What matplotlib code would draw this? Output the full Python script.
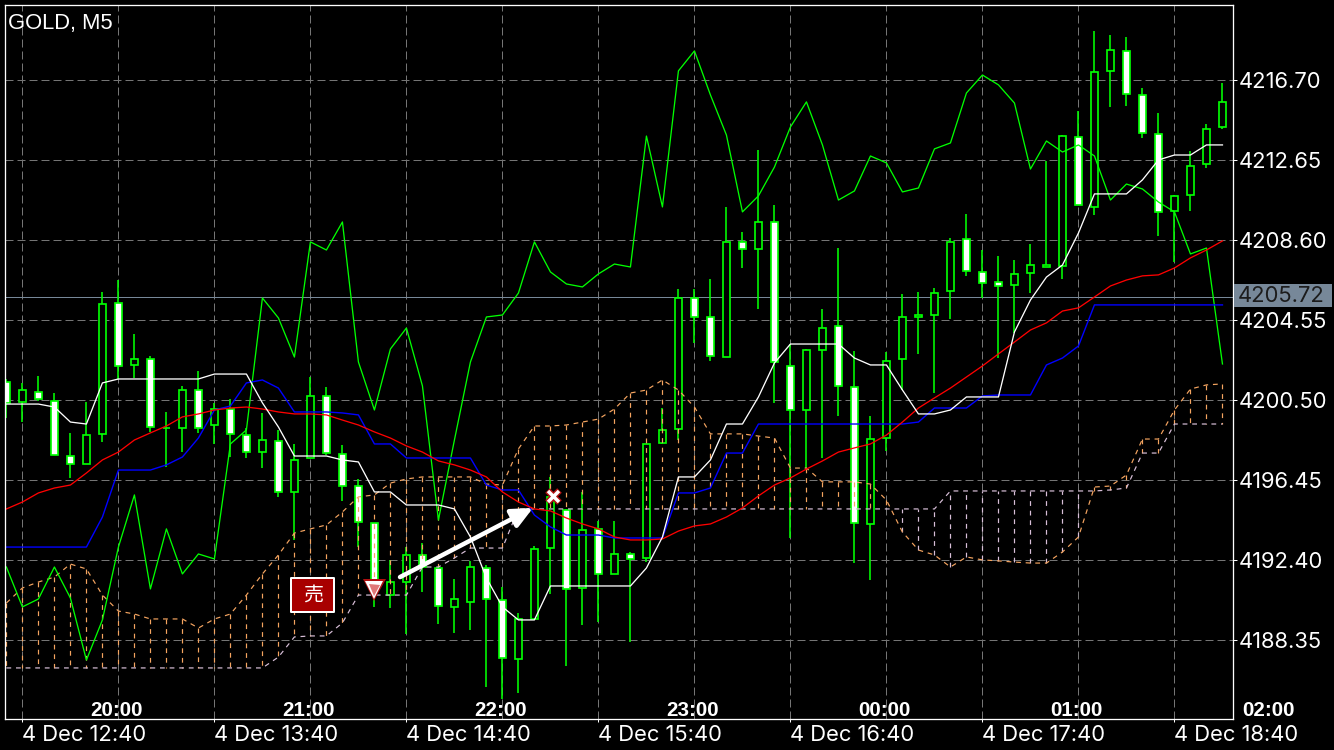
import numpy as np
import matplotlib
matplotlib.use("Agg")
import matplotlib.pyplot as plt
from matplotlib.patches import Rectangle
from matplotlib.transforms import blended_transform_factory

# Candles, one bar every 5 minutes
opens = [4201.41, 4200.40, 4200.90, 4200.45, 4197.66, 4197.26, 4198.78, 4205.41, 4202.27, 4202.57,
         4199.08, 4199.08, 4201.00, 4199.23, 4200.04, 4198.72, 4197.86, 4198.42, 4195.84, 4197.56,
         4200.70, 4197.76, 4196.14, 4194.27, 4190.62, 4191.28, 4192.65, 4191.99, 4190.02, 4190.27,
         4191.99, 4190.37, 4187.38, 4189.41, 4193.00, 4194.93, 4190.98, 4193.97, 4191.69, 4192.70,
         4192.50, 4198.32, 4199.03, 4205.66, 4204.70, 4202.67, 4208.50, 4208.14, 4209.51, 4202.22,
         4199.99, 4203.03, 4204.24, 4201.16, 4194.22, 4198.57, 4202.57, 4204.70, 4204.80, 4206.02,
         4208.65, 4206.98, 4206.47, 4206.32, 4206.93, 4207.23, 4207.28, 4213.81, 4210.27, 4217.16,
         4218.17, 4215.94, 4213.97, 4210.07, 4210.88, 4212.45, 4214.32]
highs = [4201.56, 4201.36, 4201.71, 4200.85, 4198.83, 4200.40, 4205.97, 4206.57, 4203.84, 4202.72,
         4199.89, 4201.21, 4201.97, 4200.35, 4200.55, 4199.08, 4199.84, 4198.98, 4198.27, 4201.66,
         4201.16, 4198.22, 4196.50, 4194.27, 4192.40, 4193.05, 4193.26, 4192.04, 4191.43, 4192.35,
         4192.14, 4191.03, 4189.71, 4193.10, 4196.60, 4194.98, 4195.84, 4194.37, 4194.37, 4192.80,
         4198.27, 4200.09, 4206.12, 4206.12, 4206.62, 4210.27, 4209.00, 4213.16, 4210.37, 4203.33,
         4203.08, 4205.10, 4208.19, 4202.98, 4199.69, 4202.93, 4205.86, 4205.97, 4206.17, 4208.70,
         4209.91, 4208.09, 4207.79, 4207.59, 4208.40, 4212.60, 4213.91, 4215.13, 4219.18, 4218.98,
         4218.88, 4216.29, 4215.03, 4210.88, 4213.10, 4214.47, 4216.55]
lows = [4199.59, 4199.38, 4200.45, 4197.71, 4196.55, 4197.26, 4198.37, 4201.56, 4201.61, 4198.88,
        4197.10, 4197.86, 4198.83, 4198.27, 4197.61, 4197.56, 4197.05, 4195.59, 4193.41, 4197.56,
        4197.71, 4195.38, 4193.05, 4190.02, 4189.97, 4188.65, 4190.78, 4189.16, 4188.70, 4188.85,
        4185.97, 4185.36, 4185.66, 4189.36, 4190.67, 4187.03, 4189.10, 4189.26, 4191.69, 4188.24,
        4192.29, 4198.27, 4198.47, 4203.38, 4202.47, 4202.67, 4207.18, 4205.10, 4200.35, 4193.51,
        4197.05, 4197.56, 4199.69, 4192.24, 4191.38, 4197.91, 4201.00, 4202.83, 4200.85, 4204.60,
        4206.78, 4205.66, 4202.62, 4203.89, 4205.91, 4207.23, 4206.62, 4210.37, 4209.86, 4215.33,
        4215.38, 4213.76, 4208.80, 4207.48, 4210.07, 4212.24, 4214.22]
closes = [4200.35, 4201.00, 4200.55, 4197.71, 4197.26, 4198.72, 4205.36, 4202.22, 4202.57, 4199.13,
          4199.08, 4201.00, 4199.08, 4200.04, 4198.78, 4197.86, 4198.47, 4195.84, 4197.46, 4200.70,
          4197.81, 4196.14, 4194.32, 4191.23, 4191.28, 4192.65, 4192.04, 4190.07, 4190.42, 4192.04,
          4190.42, 4187.43, 4189.41, 4192.95, 4195.59, 4190.93, 4193.91, 4191.69, 4192.70, 4192.45,
          4198.27, 4198.98, 4205.66, 4204.70, 4202.72, 4208.50, 4208.14, 4209.51, 4202.42, 4199.99,
          4203.03, 4204.14, 4201.21, 4194.27, 4198.52, 4202.47, 4204.70, 4204.80, 4205.91, 4208.50,
          4207.03, 4206.42, 4206.27, 4206.88, 4207.33, 4207.33, 4213.86, 4210.37, 4217.10, 4218.22,
          4215.99, 4214.02, 4210.02, 4210.83, 4212.34, 4214.22, 4215.59]

# Indicator lines
white_line = [4200.29, 4200.29, 4200.29, 4200.14, 4199.38, 4199.28, 4201.36, 4201.56, 4201.56, 4201.56,
              4201.56, 4201.56, 4201.56, 4201.81, 4201.81, 4201.81, 4200.35, 4199.13, 4197.66, 4197.66,
              4197.66, 4197.46, 4197.36, 4195.84, 4195.84, 4195.18, 4195.18, 4195.18, 4194.98, 4193.56,
              4191.48, 4190.02, 4189.36, 4189.36, 4191.08, 4191.08, 4191.08, 4191.08, 4191.08, 4191.08,
              4191.99, 4193.56, 4196.60, 4196.60, 4197.46, 4199.28, 4199.28, 4200.65, 4202.37, 4203.33,
              4203.33, 4203.33, 4203.33, 4202.62, 4202.27, 4202.27, 4201.00, 4199.79, 4199.79, 4199.99,
              4200.65, 4200.65, 4200.65, 4203.94, 4205.56, 4206.72, 4207.33, 4208.95, 4210.93, 4210.93,
              4210.93, 4211.64, 4212.65, 4212.90, 4212.90, 4213.41, 4213.41]
blue_line = [4193.05, 4193.05, 4193.05, 4193.05, 4193.05, 4193.05, 4194.57, 4196.95, 4196.95, 4196.95,
             4197.21, 4197.61, 4198.57, 4199.99, 4200.19, 4201.36, 4201.51, 4201.10, 4199.89, 4199.89,
             4199.89, 4199.84, 4199.74, 4198.27, 4198.27, 4197.56, 4197.56, 4197.56, 4197.56, 4197.56,
             4196.19, 4195.94, 4195.94, 4194.67, 4194.07, 4193.66, 4193.66, 4193.66, 4193.51, 4193.51,
             4193.51, 4193.51, 4195.79, 4195.79, 4196.04, 4197.81, 4197.81, 4199.28, 4199.28, 4199.28,
             4199.28, 4199.28, 4199.28, 4199.28, 4199.28, 4199.28, 4199.28, 4199.38, 4200.09, 4200.09,
             4200.09, 4200.70, 4200.75, 4200.75, 4200.75, 4202.27, 4202.62, 4203.23, 4205.31, 4205.31,
             4205.31, 4205.31, 4205.31, 4205.31, 4205.31, 4205.31, 4205.31]
red_line = [4194.98, 4195.33, 4195.79, 4196.04, 4196.19, 4196.80, 4197.46, 4197.86, 4198.47, 4198.83,
            4199.18, 4199.64, 4199.79, 4199.99, 4200.09, 4200.14, 4200.04, 4199.89, 4199.79, 4199.79,
            4199.74, 4199.48, 4199.23, 4198.88, 4198.57, 4198.17, 4197.86, 4197.41, 4197.21, 4196.95,
            4196.60, 4195.84, 4195.33, 4194.98, 4194.88, 4194.52, 4194.22, 4193.97, 4193.56, 4193.41,
            4193.41, 4193.46, 4193.86, 4194.12, 4194.22, 4194.57, 4195.03, 4195.64, 4196.19, 4196.55,
            4197.00, 4197.41, 4197.86, 4198.07, 4198.27, 4198.72, 4199.38, 4200.09, 4200.60, 4201.10,
            4201.66, 4202.22, 4202.83, 4203.43, 4204.04, 4204.40, 4205.00, 4205.16, 4205.71, 4206.27,
            4206.57, 4206.78, 4206.83, 4207.18, 4207.69, 4208.09, 4208.55]
green_line = [4192.04, 4190.02, 4190.42, 4192.04, 4190.47, 4187.33, 4189.36, 4193.05, 4195.69, 4190.93,
              4193.97, 4191.69, 4192.70, 4192.45, 4198.27, 4198.98, 4205.66, 4204.65, 4202.67, 4208.50,
              4208.09, 4209.51, 4202.42, 4199.99, 4203.08, 4204.14, 4201.21, 4194.42, 4198.47, 4202.42,
              4204.70, 4204.80, 4205.91, 4208.50, 4206.98, 4206.37, 4206.22, 4206.88, 4207.38, 4207.23,
              4213.86, 4210.27, 4217.16, 4218.17, 4215.94, 4213.91, 4210.02, 4210.83, 4212.29, 4214.32,
              4215.59, 4213.41, 4210.62, 4211.08, 4212.85, 4212.50, 4211.03, 4211.23, 4213.21, 4213.51,
              4216.04, 4216.95, 4216.45, 4215.53, 4212.19, 4213.61, 4213.05, 4213.41, 4212.85, 4210.62,
              4211.43, 4211.18, 4210.52, 4210.02, 4207.89, 4208.19, 4202.32]

# Cloud
span_a = [4190.22, 4190.98, 4191.28, 4191.53, 4192.19, 4191.94, 4190.62, 4189.81, 4189.66, 4189.41,
          4189.41, 4189.41, 4188.95, 4189.41, 4189.66, 4190.62, 4191.69, 4192.65, 4193.76, 4193.97,
          4194.17, 4194.83, 4195.59, 4195.69, 4196.29, 4196.50, 4196.60, 4196.60, 4196.60, 4196.60,
          4196.24, 4196.19, 4198.02, 4199.18, 4199.18, 4199.23, 4199.38, 4199.53, 4200.04, 4200.85,
          4201.00, 4201.51, 4201.00, 4200.14, 4198.78, 4198.78, 4198.78, 4198.67, 4198.57, 4197.05,
          4197.05, 4196.35, 4196.35, 4196.35, 4196.24, 4195.43, 4193.81, 4192.90, 4192.65, 4192.04,
          4192.55, 4192.40, 4192.35, 4192.29, 4192.24, 4192.24, 4192.80, 4193.56, 4196.09, 4196.14,
          4196.70, 4198.52, 4198.52, 4199.99, 4201.05, 4201.26, 4201.31]
span_b = [4186.93, 4186.93, 4186.93, 4186.93, 4186.93, 4186.93, 4186.93, 4186.93, 4186.93, 4186.93,
          4186.93, 4186.93, 4186.93, 4186.93, 4186.93, 4186.93, 4186.93, 4187.48, 4188.50, 4188.55,
          4188.55, 4189.21, 4190.62, 4190.62, 4190.62, 4190.62, 4192.04, 4192.04, 4192.50, 4193.00,
          4193.00, 4193.00, 4194.98, 4194.98, 4194.98, 4194.98, 4194.98, 4194.98, 4194.98, 4194.98,
          4194.98, 4194.98, 4194.98, 4194.98, 4194.98, 4194.98, 4194.98, 4194.98, 4194.98, 4194.98,
          4194.98, 4194.98, 4194.98, 4194.98, 4194.98, 4194.98, 4194.98, 4194.98, 4194.98, 4195.89,
          4195.89, 4195.89, 4195.89, 4195.89, 4195.89, 4195.89, 4195.89, 4195.89, 4195.89, 4195.94,
          4196.04, 4197.81, 4197.81, 4199.28, 4199.28, 4199.28, 4199.28]

# Axis labels
price_ticks = [4216.70, 4212.65, 4208.60, 4204.55, 4200.50, 4196.45, 4192.40, 4188.35]
date_bars = [1, 13, 25, 37, 49, 61, 73]
date_labels = ["4 Dec 12:40", "4 Dec 13:40", "4 Dec 14:40", "4 Dec 15:40",
               "4 Dec 16:40", "4 Dec 17:40", "4 Dec 18:40"]
grid_bars = [7, 19, 31, 43, 55, 67]
hour_bars = [7, 19, 31, 43, 55, 67, 79]
hour_labels = ["20:00", "21:00", "22:00", "23:00", "00:00", "01:00", "02:00"]
last_price = 4205.72

# Trade marks
sell_bar, sell_price = 23.0, 4190.88
close_bar, close_price = 34.16, 4195.64
arrow_start = (24.6, 4191.53)
arrow_end = (32.91, 4195.03)

GREEN = "#00ff00"
SLATE = "#778899"
AXIS_FONT = ["Inter", "Liberation Sans"]
PX = 0.72  # un pixel en puntos a dpi 100

fig = plt.figure(figsize=(13.34, 7.5), dpi=100, facecolor="black")
ax = fig.add_axes([4.5 / 1334, 31.5 / 750, 1228.2 / 1334, 714 / 750], facecolor="black")
bars = np.arange(len(opens))
o, h, l, c = map(np.array, (opens, highs, lows, closes))
a, b = np.array(span_a), np.array(span_b)

# Grid and last price
ax.set_yticks(price_ticks)
ax.set_xticks(date_bars)
ax.set_xticks(grid_bars, minor=True)
ax.grid(True, which="both", color="#757575", lw=PX, linestyle=(0, (8, 4)), zorder=0)
ax.set_axisbelow(True)
ax.axhline(last_price, color=SLATE, lw=PX, zorder=1)

# Candles
ax.vlines(bars, l, h, color=GREEN, lw=1.6 * PX, zorder=2)
faces = ["white" if cl < op else "black" for op, cl in zip(opens, closes)]
ax.bar(bars, np.abs(c - o), bottom=np.minimum(o, c), width=0.48, color=faces,
       edgecolor=GREEN, linewidth=1.7 * PX, zorder=3)

# Cloud with dashed hatching
dash = (0, (4, 4))
hatch_colors = ["#f4a460" if ya > yb else "#d8bfd8" for ya, yb in zip(span_a, span_b)]
ax.vlines(bars, a, b, colors=hatch_colors, lw=1.2 * PX, linestyles=[dash], zorder=4)
ax.plot(bars, b, color="#d8bfd8", lw=1.2 * PX, linestyle=dash, zorder=4)
ax.plot(bars, a, color="#f4a460", lw=1.2 * PX, linestyle=dash, zorder=4)

# Lines
ax.plot(bars, green_line, color=GREEN, lw=1.3 * PX, zorder=5)
ax.plot(bars, blue_line, color="#0000ff", lw=1.4 * PX, zorder=5)
ax.plot(bars, red_line, color="#ff0000", lw=1.3 * PX, zorder=5)
ax.plot(bars, white_line, color="white", lw=1.3 * PX, zorder=5)

ax.set_xlim(-0.119, 76.64)
ax.set_ylim(4184.37, 4220.52)

# Sell badge and trade marks
ax.add_patch(Rectangle((17.79, 4189.76), 2.7, 1.72, facecolor="#a80000", edgecolor="white",
                       lw=2 * PX, joinstyle="round", zorder=7))
ax.text(19.14, 4190.62, "売", color="white", fontsize=20 * PX, ha="center", va="center",
        family=["Noto Sans CJK JP", "DejaVu Sans"], zorder=8)
ax.plot([sell_bar], [sell_price], marker="v", ms=23 * PX, color="#b01010", mew=0, zorder=7)
ax.plot([sell_bar], [sell_price], marker="v", ms=18 * PX, color="white", mew=0, zorder=7)
ax.plot([sell_bar], [sell_price], marker="v", ms=11 * PX, color="#e07878", mew=0, zorder=7)
ax.plot([close_bar], [close_price], marker="x", ms=12 * PX, color="#b01010", mew=6.5 * PX, zorder=7)
ax.plot([close_bar], [close_price], marker="x", ms=11 * PX, color="white", mew=3.5 * PX, zorder=7)
ax.annotate("", xy=arrow_end, xytext=arrow_start, zorder=7,
            arrowprops=dict(arrowstyle="-|>,head_length=0.9,head_width=0.42", color="white",
                            lw=4.5 * PX, shrinkA=0, shrinkB=0, mutation_scale=14))

# Axes
for spine in ax.spines.values():
    spine.set_color("white")
    spine.set_linewidth(1.3 * PX)
    spine.set_zorder(9)
ax.yaxis.tick_right()
ax.set_yticklabels([f"{p:.2f}" for p in price_ticks], color="white", fontsize=22 * PX, family=AXIS_FONT)
ax.set_xticklabels(date_labels, color="white", fontsize=22 * PX, ha="left", family=AXIS_FONT)
ax.tick_params(axis="y", length=4 * PX, width=PX, color="white", pad=1.5)
ax.tick_params(axis="x", which="major", length=3 * PX, width=PX, color="white", pad=2.5)
ax.tick_params(axis="x", which="minor", length=0)

# Hour labels sit inside the chart, above the date axis
hour_trans = blended_transform_factory(ax.transData, ax.transAxes)
for bar, label in zip(hour_bars, hour_labels):
    ax.text(bar - 0.13, 8 / 714, label, transform=hour_trans, color="white", fontsize=20.5 * PX,
            fontweight="bold", family="Liberation Sans", ha="center", va="center", clip_on=False, zorder=9)

# Last price tag
fig.add_artist(Rectangle((1234 / 1334, 443 / 750), 98 / 1334, 23 / 750, transform=fig.transFigure,
                         facecolor=SLATE, edgecolor="none"))
fig.text(1238 / 1334, 454.5 / 750, f"{last_price:.2f}", color="#1c1c1c", fontsize=22 * PX,
         family=AXIS_FONT, ha="left", va="center")

fig.text(8 / 1334, 721 / 750, "GOLD, M5", color="white", fontsize=22 * PX,
         family="Liberation Sans", ha="left", va="baseline")

fig.savefig("out.png", dpi=100, facecolor="black")
